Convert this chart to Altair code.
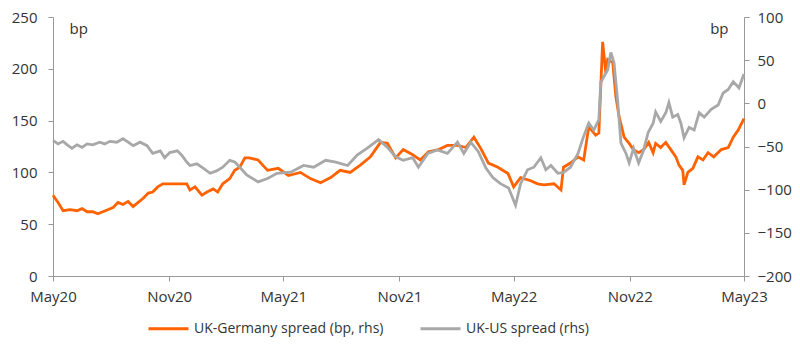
import altair as alt
import pandas as pd

SER_DE = "UK-Germany spread (bp, rhs)"
SER_US = "UK-US spread (rhs)"

de_dates = [
    "2020-05-01", "2020-05-09", "2020-05-17", "2020-05-28", "2020-06-08", "2020-06-16",
    "2020-06-24", "2020-07-03", "2020-07-11", "2020-07-19", "2020-07-27", "2020-08-04",
    "2020-08-12", "2020-08-20", "2020-08-28", "2020-09-05", "2020-09-13", "2020-09-21",
    "2020-09-29", "2020-10-06", "2020-10-14", "2020-10-22", "2020-10-30", "2020-11-07",
    "2020-11-18", "2020-11-29", "2020-12-04", "2020-12-12", "2020-12-23", "2020-12-31",
    "2021-01-10", "2021-01-17", "2021-01-25", "2021-02-05", "2021-02-13", "2021-02-21",
    "2021-03-01", "2021-03-08",
    "2021-03-22", "2021-04-06", "2021-04-23", "2021-05-09",
    "2021-05-28", "2021-06-13", "2021-06-29", "2021-07-15", "2021-07-30", "2021-08-15",
    "2021-08-31", "2021-09-16", "2021-10-02", "2021-10-13", "2021-10-26", "2021-11-07",
    "2021-11-22", "2021-12-04", "2021-12-17", "2022-01-02", "2022-01-16", "2022-02-01",
    "2022-02-14", "2022-02-27", "2022-03-10", "2022-03-22", "2022-04-06", "2022-04-22",
    "2022-05-01", "2022-05-12", "2022-05-28", "2022-06-08", "2022-06-18", "2022-07-04",
    "2022-07-15", "2022-07-19", "2022-07-30", "2022-08-11", "2022-08-20", "2022-08-28",
    "2022-09-08", "2022-09-13", "2022-09-19", "2022-09-24", "2022-09-27", "2022-10-05",
    "2022-10-10", "2022-10-15", "2022-10-23", "2022-10-31", "2022-11-07", "2022-11-15",
    "2022-11-23", "2022-12-01", "2022-12-08", "2022-12-12", "2022-12-20", "2022-12-28",
    "2023-01-05", "2023-01-13", "2023-01-18", "2023-01-24", "2023-01-26", "2023-02-01",
    "2023-02-09", "2023-02-17", "2023-02-25", "2023-03-05", "2023-03-14", "2023-03-26",
    "2023-04-06", "2023-04-14", "2023-04-22", "2023-05-01",
]
de_values = [
    78, 71, 63, 64, 63, 65,
    62, 62, 60, 62, 64, 66,
    71, 69, 72, 67, 71, 75,
    80, 81, 86, 89, 89, 89,
    89, 89, 83, 86, 78, 81,
    84, 81, 89, 94, 102, 105,
    114, 114,
    112, 102, 104, 97,
    100, 94, 90, 95, 102, 100,
    107, 115, 129, 128, 114, 122,
    117, 112, 120, 122, 126, 126,
    124, 134, 123, 109, 105, 99,
    86, 95, 92, 89, 88, 89,
    83, 105, 109, 115, 112, 144,
    136, 138, 226, 196, 209, 206,
    173, 154, 134, 128, 122, 119,
    122, 129, 119, 128, 124, 129,
    122, 115, 107, 102, 88, 100,
    104, 115, 112, 119, 115, 122,
    124, 134, 141, 152,
]

us_dates = [
    "2020-05-01", "2020-05-09", "2020-05-17", "2020-05-25", "2020-05-31", "2020-06-08",
    "2020-06-16", "2020-06-24", "2020-07-03", "2020-07-14", "2020-07-22", "2020-07-30",
    "2020-08-10", "2020-08-20", "2020-08-28", "2020-09-05", "2020-09-16", "2020-09-27",
    "2020-10-06", "2020-10-18", "2020-10-25", "2020-11-02", "2020-11-14", "2020-11-21",
    "2020-11-29", "2020-12-04", "2020-12-15", "2020-12-25", "2021-01-05", "2021-01-16",
    "2021-01-25", "2021-02-05", "2021-02-13", "2021-02-21", "2021-03-04",
    "2021-03-22", "2021-04-06", "2021-04-21",
    "2021-05-07", "2021-05-12", "2021-06-02", "2021-06-18", "2021-07-07", "2021-07-23",
    "2021-08-11", "2021-08-26", "2021-09-11", "2021-09-29", "2021-10-13", "2021-10-26",
    "2021-11-07", "2021-11-22", "2021-12-01", "2021-12-16", "2021-12-31", "2022-01-16",
    "2022-02-01", "2022-02-11", "2022-02-22", "2022-03-06", "2022-03-18", "2022-03-29",
    "2022-04-10", "2022-04-23", "2022-05-04", "2022-05-12", "2022-05-23", "2022-06-02",
    "2022-06-13", "2022-06-21", "2022-06-29", "2022-07-10", "2022-07-19", "2022-07-30",
    "2022-08-11", "2022-08-19", "2022-08-28", "2022-09-05", "2022-09-13", "2022-09-16",
    "2022-09-21", "2022-09-27", "2022-10-02", "2022-10-07", "2022-10-13", "2022-10-18",
    "2022-10-26", "2022-10-31", "2022-11-07", "2022-11-15", "2022-11-23", "2022-11-30",
    "2022-12-08", "2022-12-12", "2022-12-20", "2022-12-28", "2023-01-02", "2023-01-08",
    "2023-01-16", "2023-01-21", "2023-01-26", "2023-02-03", "2023-02-11", "2023-02-19",
    "2023-02-27", "2023-03-10", "2023-03-21", "2023-03-29", "2023-04-06", "2023-04-14",
    "2023-04-23", "2023-05-01",
]
us_values = [
    -43, -47, -44, -49, -52, -48,
    -51, -47, -48, -45, -47, -44,
    -45, -41, -45, -49, -45, -49,
    -58, -55, -63, -57, -55, -60,
    -68, -72, -70, -75, -81, -78,
    -74, -66, -68, -74, -83,
    -91, -87, -81,
    -80, -80, -72, -74, -66, -68,
    -72, -60, -52, -42, -51, -62,
    -66, -63, -74, -58, -54, -58,
    -45, -58, -45, -56, -75, -86,
    -93, -98, -118, -93, -77, -74,
    -63, -77, -72, -81, -80, -74,
    -58, -40, -23, -31, -19, 24,
    31, 39, 59, 47, 1, -46,
    -58, -69, -52, -69, -54, -34,
    -23, -10, -21, -11, 1, -16,
    -13, -23, -40, -28, -31, -11,
    -16, -7, -2, 12, 16, 25,
    18, 34,
]

x_tick_dates = [(2020, 5), (2020, 11), (2021, 5), (2021, 11), (2022, 5), (2022, 11), (2023, 5)]
left_ticks = [0, 50, 100, 150, 200, 250]
right_ticks = [-200, -150, -100, -50, 0, 50, 100]

df_de = pd.DataFrame({"date": pd.to_datetime(de_dates), "value": de_values, "series": SER_DE})
df_us = pd.DataFrame({"date": pd.to_datetime(us_dates), "value": us_values, "series": SER_US})

FONT = "Open Sans"
AXIS_GREY = "#999999"
LABEL = "#333333"

x_enc = alt.X(
    "date:T",
    title=None,
    scale=alt.Scale(domain=[alt.DateTime(year=2020, month=5, date=1),
                            alt.DateTime(year=2023, month=5, date=1)]),
    axis=alt.Axis(
        values=[alt.DateTime(year=y, month=m, date=1) for y, m in x_tick_dates],
        format="%b%y", labelFlush=False, labelBound=False, grid=False,
        tickSize=5, labelPadding=8, labelFontSize=15,
    ),
)

color_enc = alt.Color(
    "series:N",
    scale=alt.Scale(domain=[SER_DE, SER_US], range=["#FF6200", "#A8A8A8"]),
    legend=alt.Legend(
        title=None, orient="none", direction="horizontal",
        legendX=94, legendY=290,
        symbolType="stroke", symbolSize=1600, symbolStrokeWidth=3,
        labelFontSize=14, labelOffset=4, columnPadding=30, labelLimit=0,
        labelColor=LABEL, labelFont=FONT,
    ),
)

de_line = alt.Chart(df_de).mark_line(strokeWidth=2.8).encode(
    x=x_enc,
    y=alt.Y(
        "value:Q",
        scale=alt.Scale(domain=[0, 250], nice=False, zero=False),
        axis=alt.Axis(
            values=left_ticks, grid=False, orient="left",
            title="bp", titleAngle=0, titleAlign="left", titleBaseline="middle",
            titleX=16, titleY=11, titleFontWeight="normal", titleFontSize=15,
            tickSize=5, labelPadding=11, labelFontSize=15,
        ),
    ),
    color=color_enc,
)

us_line = alt.Chart(df_us).mark_line(strokeWidth=2.8).encode(
    x=x_enc,
    y=alt.Y(
        "value:Q",
        scale=alt.Scale(domain=[-200, 100], nice=False, zero=False),
        axis=alt.Axis(
            values=right_ticks, grid=False, orient="right",
            title="bp", titleAngle=0, titleAlign="right", titleBaseline="middle",
            titleX=-16, titleY=11, titleFontWeight="normal", titleFontSize=15,
            tickSize=5, labelPadding=8, labelFontSize=15,
        ),
    ),
    color=color_enc,
)

chart = (
    alt.layer(de_line, us_line)
    .resolve_scale(y="independent")
    .properties(
        width=691, height=259,
        autosize=alt.AutoSizeParams(type="none"),
        padding={"left": 45, "top": 9, "right": 48, "bottom": 70},
    )
    .configure_view(stroke=None)
    .configure_axis(
        domainColor=AXIS_GREY, tickColor=AXIS_GREY, labelColor=LABEL,
        titleColor=LABEL, labelFont=FONT, titleFont=FONT, domainWidth=1,
    )
)

chart.save("out.html", embed_options={"renderer": "svg", "actions": False})
